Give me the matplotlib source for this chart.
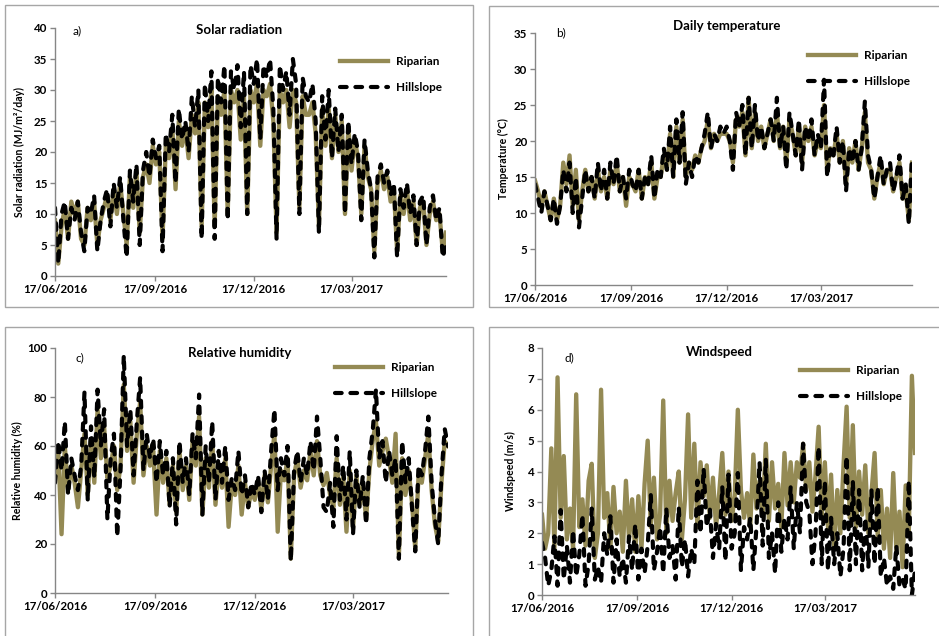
import numpy as np
import pandas as pd
import matplotlib
matplotlib.use("Agg")
import matplotlib.pyplot as plt
import matplotlib.dates as mdates
from matplotlib.patches import Rectangle

plt.rcParams['font.family'] = ['Lato', 'DejaVu Sans']

# every third day from 17/06/2016
dates = pd.date_range('2016-06-17', periods=121, freq='3D')

sol_rip = [9, 2, 8, 11, 6, 12, 10, 12, 6, 5,
           11, 9, 12, 5, 9, 11, 13, 9, 14, 10,
           15, 10, 5, 16, 11, 17, 7, 16, 18, 15,
           21, 18, 20, 6, 21, 19, 24, 14, 25, 21,
           24, 19, 26, 23, 28, 8, 28, 24, 30, 8,
           29, 26, 30, 10, 30, 28, 30, 22, 29, 10,
           30, 28, 31, 21, 30, 29, 31, 25, 7, 30,
           28, 30, 24, 30, 28, 11, 29, 26, 26, 28,
           23, 8, 27, 21, 27, 19, 26, 20, 25, 10,
           24, 17, 22, 19, 10, 21, 16, 14, 4, 15,
           17, 14, 16, 12, 14, 4, 13, 10, 14, 9,
           12, 5, 11, 12, 5, 10, 12, 9, 10, 4, 7]
sol_hill = [11, 2, 10, 12, 6, 11, 9, 12, 7, 4,
            11, 10, 13, 4, 9, 12, 14, 8, 15, 11,
            16, 9, 3, 17, 12, 18, 5, 17, 20, 16,
            22, 19, 21, 4, 23, 20, 26, 15, 27, 22,
            25, 20, 29, 24, 30, 6, 31, 25, 33, 6,
            32, 28, 34, 9, 33, 30, 34, 24, 33, 10,
            34, 31, 35, 22, 34, 32, 35, 27, 6, 34,
            30, 33, 26, 35, 31, 10, 32, 29, 28, 31,
            25, 7, 29, 22, 30, 19, 27, 20, 26, 10,
            25, 18, 23, 20, 9, 22, 17, 14, 3, 16,
            18, 15, 17, 13, 15, 3, 14, 11, 15, 10,
            13, 5, 12, 13, 5, 11, 13, 9, 11, 3, 5]

tmp_rip = [14.5, 13, 11, 13, 11, 9, 12, 9, 11, 17,
           14, 18, 11, 16, 9, 13, 16, 13, 15, 12,
           16, 13, 15, 12, 16, 14, 17, 13, 15, 11,
           15, 14, 13, 16, 12, 15, 14, 17, 12, 15,
           15, 18, 16, 21, 15, 22, 17, 23, 15, 17,
           16, 18, 17, 19, 20, 23, 19, 21, 20, 21,
           21, 21, 20, 17, 23, 22, 24, 18, 26, 19,
           24, 20, 22, 19, 21, 23, 20, 24, 19, 22,
           17, 23, 21, 18, 22, 17, 22, 20, 22, 18,
           20, 19, 25, 16, 19, 18, 21, 17, 20, 14,
           19, 17, 20, 16, 19, 24, 17, 16, 12, 15,
           17, 14, 16, 16, 13, 15, 17, 12, 13, 9, 17]
tmp_hill = [14, 12, 10, 13, 11, 9, 12, 8.5, 11, 16,
            13, 17, 10, 15, 8, 12, 16, 13, 15, 12,
            17, 13, 16, 12, 17, 14, 18, 13, 15, 12,
            16, 14, 13, 16, 12, 15, 14, 18, 12, 16,
            15, 19, 16, 22, 15, 23, 17, 24, 14, 17,
            15, 18, 17, 19, 21, 24, 19, 21, 20, 22,
            21, 22, 20, 16, 24, 22, 25, 18, 26, 19,
            25, 20, 22, 19, 21, 23, 20, 26, 19, 22,
            16, 24, 21, 18, 23, 16, 22, 20, 23, 18,
            21, 19, 28.5, 15, 19, 18, 22, 17, 20, 13,
            19, 17, 20, 16, 19, 25.5, 18, 16, 12, 15,
            18, 14, 16, 17, 13, 15, 18, 12, 14, 8.5, 18]

rh_rip = [48, 58, 24, 60, 42, 52, 45, 35, 50, 65,
          40, 62, 45, 75, 55, 68, 47, 52, 60, 42,
          52, 85, 58, 70, 45, 65, 78, 48, 60, 52,
          58, 32, 58, 45, 55, 36, 52, 33, 58, 42,
          52, 38, 62, 52, 72, 32, 55, 43, 62, 36,
          52, 43, 55, 27, 45, 40, 52, 32, 45, 35,
          42, 38, 46, 34, 48, 37, 52, 65, 25, 50,
          46, 55, 14, 48, 55, 43, 50, 46, 58, 48,
          62, 48, 44, 49, 40, 35, 55, 36, 48, 25,
          50, 26, 48, 36, 45, 30, 50, 62, 70, 52,
          58, 63, 55, 45, 65, 15, 55, 40, 50, 37,
          18, 48, 45, 55, 65, 42, 28, 21, 45, 62, 60]
rh_hill = [45, 62, 50, 70, 40, 55, 48, 42, 52, 82,
           38, 68, 47, 83, 60, 75, 30, 55, 65, 23,
           50, 97, 60, 75, 48, 70, 88, 50, 65, 55,
           63, 45, 62, 48, 58, 35, 55, 28, 62, 45,
           55, 40, 65, 55, 81, 32, 60, 45, 70, 38,
           58, 45, 60, 38, 47, 42, 58, 40, 48, 35,
           45, 40, 48, 33, 50, 38, 58, 75, 42, 55,
           48, 60, 13, 50, 58, 45, 55, 48, 62, 50,
           72, 55, 35, 33, 45, 27, 64, 38, 52, 30,
           58, 24, 50, 35, 48, 28, 55, 66, 83, 55,
           62, 45, 58, 48, 55, 14, 62, 45, 55, 35,
           17, 52, 48, 58, 72, 45, 30, 20, 48, 67, 60]

ws_rip = [2.6, 1.5, 2.0, 4.75, 1.5, 7.05, 2.5, 4.5, 1.8, 2.8,
          1.5, 6.5, 2.2, 3.1, 1.6, 3.7, 4.25, 1.2, 2.0, 6.65,
          2.5, 3.3, 1.5, 3.5, 2.0, 2.7, 1.4, 3.7, 1.8, 3.1,
          1.4, 3.2, 1.5, 3.6, 5.0, 2.2, 3.8, 1.8, 2.6, 6.3,
          2.0, 3.7, 2.4, 3.3, 4.0, 1.8, 3.1, 5.85, 2.5, 4.9,
          2.2, 4.3, 3.2, 4.2, 2.5, 3.8, 2.2, 3.3, 4.6, 2.6,
          4.0, 2.4, 3.2, 6.0, 3.4, 2.5, 3.3, 2.2, 4.55, 2.8,
          3.7, 2.6, 4.9, 2.4, 4.3, 2.8, 3.6, 2.2, 4.6, 2.9,
          4.3, 3.0, 4.3, 3.8, 4.9, 3.4, 4.3, 2.7, 3.9, 5.45,
          2.5, 4.3, 2.2, 3.9, 1.5, 3.4, 2.0, 4.2, 6.1, 2.5,
          5.5, 2.2, 4.0, 2.6, 4.2, 2.0, 3.3, 4.6, 1.9, 3.4,
          1.5, 2.8, 1.2, 3.95, 1.4, 2.7, 0.9, 3.55, 2.0, 7.1, 4.6]
ws_hill = [1.7, 1.2, 0.3, 0.8, 1.9, 0.3, 2.75, 0.5, 1.6, 0.4,
           2.1, 0.6, 1.3, 2.6, 0.3, 1.0, 2.8, 0.5, 0.9, 0.4,
           2.0, 1.3, 2.55, 0.4, 1.8, 0.6, 1.2, 0.4, 1.9, 0.8,
           2.3, 0.5, 1.5, 0.7, 1.6, 3.25, 0.8, 1.4, 2.2, 0.7,
           2.8, 1.2, 1.6, 0.5, 2.85, 0.9, 1.8, 0.6, 1.5, 1.0,
           3.7, 2.0, 4.1, 2.2, 2.8, 1.2, 2.3, 1.5, 3.5, 1.1,
           3.9, 1.5, 2.0, 3.95, 0.8, 2.2, 1.8, 2.5, 0.8, 2.2,
           4.3, 1.6, 4.4, 1.2, 2.0, 0.7, 3.0, 1.4, 2.5, 1.8,
           3.5, 1.5, 3.0, 2.0, 4.9, 3.0, 2.7, 1.0, 2.0, 4.8,
           1.0, 3.7, 0.8, 2.5, 1.0, 2.0, 0.6, 1.5, 4.5, 0.8,
           3.7, 1.0, 3.4, 0.8, 2.5, 0.9, 3.4, 1.0, 3.5, 0.6,
           1.2, 0.3, 0.6, 0.2, 1.6, 0.3, 0.5, 0.2, 3.7, 0.0, 0.8]

RIP_COL = '#948A54'
GREY = '#868686'
W, H = 939, 636


def fx(x):
    return x / W


def fy(y):
    return 1 - y / H


fig = plt.figure(figsize=(W / 100, H / 100), dpi=100)

# panel frames (pixel coords: left, top, right, bottom)
for l, t, r, b in [(5, 5, 473, 307), (489, 6, 945, 307),
                   (5, 327, 473, 645), (489, 327, 945, 645)]:
    fig.add_artist(Rectangle((fx(l), fy(b)), fx(r - l), (b - t) / H,
                             transform=fig.transFigure, fill=False,
                             edgecolor='#A6A6A6', linewidth=1.0))

panels = [
    dict(box=(55, 446, 276, 28), ymax=40, step=5, rip=sol_rip, hill=sol_hill,
         ylabel='Solar radiation (MJ/m²/day)', title='Solar radiation',
         tpos=(239, 30), tag='a)', gpos=(77, 31), lpos=(340, 56), ylx=19),
    dict(box=(535, 912, 285, 33), ymax=35, step=5, rip=tmp_rip, hill=tmp_hill,
         ylabel='Temperature (°C)', title='Daily temperature',
         tpos=(727, 26), tag='b)', gpos=(561, 33), lpos=(808, 50), ylx=503),
    dict(box=(55, 448, 593, 348), ymax=100, step=20, rip=rh_rip, hill=rh_hill,
         ylabel='Relative humidity (%)', title='Relative humidity',
         tpos=(240, 353), tag='c)', gpos=(80, 358), lpos=(335, 362), ylx=17),
    dict(box=(542, 915, 595, 348), ymax=8, step=1, rip=ws_rip, hill=ws_hill,
         ylabel='Windspeed (m/s)', title='Windspeed',
         tpos=(719, 352), tag='d)', gpos=(569, 358), lpos=(800, 365), ylx=510),
]

for p in panels:
    l, r, y0, yt = p['box']
    ax = fig.add_axes([fx(l), fy(y0), fx(r - l), (y0 - yt) / H])
    ax.plot(dates, p['rip'], color=RIP_COL, lw=3.1, label='Riparian',
            solid_joinstyle='round')
    ax.plot(dates, p['hill'], color='black', lw=3.0, label='Hillslope',
            dashes=(1.6, 2.1), dash_capstyle='round', dash_joinstyle='round')
    ax.set_xlim(dates[0], dates[-1])
    ax.set_ylim(0, p['ymax'])
    ax.set_yticks(np.arange(0, p['ymax'] + p['step'] / 2, p['step']))
    ax.xaxis.set_major_locator(mdates.MonthLocator(bymonth=[3, 6, 9, 12], bymonthday=17))
    ax.xaxis.set_major_formatter(mdates.DateFormatter('%d/%m/%Y'))
    for s in ['top', 'right']:
        ax.spines[s].set_visible(False)
    for s in ['left', 'bottom']:
        ax.spines[s].set_color(GREY)
        ax.spines[s].set_linewidth(1.0)
    ax.tick_params(direction='out', length=3.5, width=1.0, color=GREY,
                   labelsize=8.3, pad=2)
    for t in ax.get_xticklabels() + ax.get_yticklabels():
        t.set_fontweight('bold')
    ax.set_facecolor('none')
    fig.text(fx(p['ylx']), fy((y0 + yt) / 2), p['ylabel'], rotation=90,
             ha='center', va='center', fontsize=7.6, fontweight='bold')
    fig.text(fx(p['tpos'][0]), fy(p['tpos'][1]), p['title'], ha='center',
             va='center', fontsize=9.5, fontweight='bold')
    fig.text(fx(p['gpos'][0]), fy(p['gpos'][1]), p['tag'], ha='center',
             va='center', fontsize=8.5)
    ax.legend(loc='upper left', bbox_to_anchor=(fx(p['lpos'][0]), fy(p['lpos'][1])),
              bbox_transform=fig.transFigure, frameon=False,
              prop={'weight': 'bold', 'size': 8.5}, handlelength=4.1,
              handletextpad=0.65, labelspacing=1.25, borderpad=0, borderaxespad=0)

fig.savefig('out.png', dpi=100)
